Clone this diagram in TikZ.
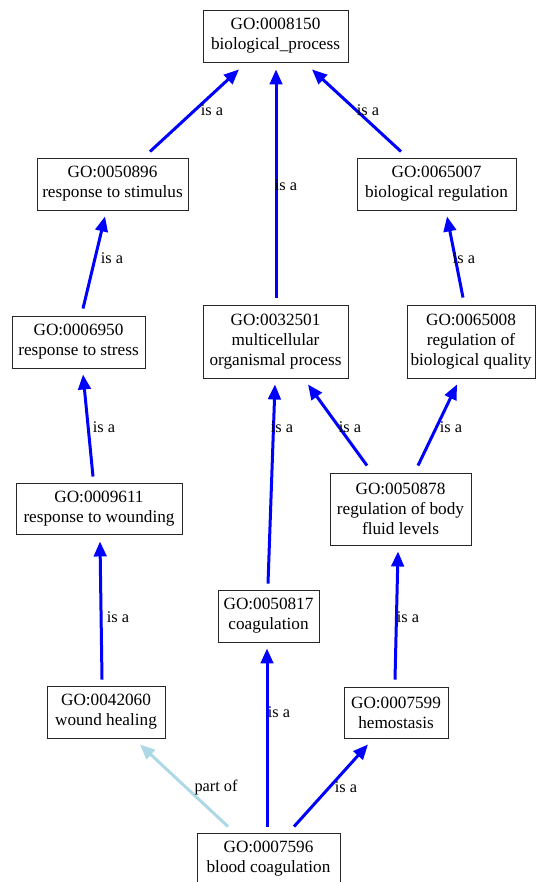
\documentclass[tikz,border=0pt]{standalone}
\usepackage{fontspec}
\setmainfont{Liberation Serif}
\usetikzlibrary{arrows.meta}
\tikzset{
  x=1pt, y=-1pt,
  gobox/.style={draw=black!85, line width=0.9pt, inner sep=0pt, align=center,
    font=\fontsize{17.2}{20}\selectfont, minimum height=52pt},
  isa/.style={draw={rgb,255:red,0;green,0;blue,255}, line width=3pt,
    -{Triangle[length=15pt,width=12.5pt]}},
  partof/.style={draw={rgb,255:red,173;green,216;blue,230}, line width=3pt,
    -{Triangle[length=15pt,width=12.5pt]}},
  elabel/.style={font=\fontsize{16.3}{19}\selectfont, inner sep=0pt}
}
\begin{document}
\begin{tikzpicture}
\useasboundingbox (0,0) rectangle (536,882);
% nodes
\node[gobox, minimum width=145pt] (n8150) at (275.5,36) {GO:0008150\\biological\_process};
\node[gobox, minimum width=151pt] (n50896) at (112.5,184) {GO:0050896\\response to stimulus};
\node[gobox, minimum width=159pt] (n65007) at (436.5,184) {GO:0065007\\biological regulation};
\node[gobox, minimum width=133pt] (n6950) at (78.5,342) {GO:0006950\\response to stress};
\node[gobox, minimum width=145pt, minimum height=73pt] (n32501) at (275.5,341.5) {GO:0032501\\multicellular\\organismal process};
\node[gobox, minimum width=128pt, minimum height=73pt] (n65008) at (471,341.5) {GO:0065008\\regulation of\\biological quality};
\node[gobox, minimum width=166pt, minimum height=51pt] (n9611) at (99,508.5) {GO:0009611\\response to wounding};
\node[gobox, minimum width=141pt, minimum height=72pt] (n50878) at (400.5,509) {GO:0050878\\regulation of body\\fluid levels};
\node[gobox, minimum width=101pt] (n50817) at (268.5,616) {GO:0050817\\coagulation};
\node[gobox, minimum width=118pt] (n42060) at (106,712) {GO:0042060\\wound healing};
\node[gobox, minimum width=104pt, minimum height=51pt] (n7599) at (396,712.5) {GO:0007599\\hemostasis};
\node[gobox, minimum width=143pt] (n7596) at (268.5,859) {GO:0007596\\blood coagulation};
% edges
\draw[partof] ([xshift=-40.5pt,yshift=6pt]n7596.north) -- ([xshift=34pt,yshift=-6pt]n42060.south);
\draw[isa] ([xshift=-1.5pt,yshift=6pt]n7596.north) -- ([xshift=-1.5pt,yshift=-6pt]n50817.south);
\draw[isa] ([xshift=25.5pt,yshift=6pt]n7596.north) -- ([xshift=-28pt,yshift=-6pt]n7599.south);
\draw[isa] ([xshift=-4pt,yshift=6pt]n42060.north) -- ([xshift=1pt,yshift=-7pt]n9611.south);
\draw[isa] ([xshift=-1pt,yshift=7pt]n7599.north) -- ([xshift=-2.5pt,yshift=-6pt]n50878.south);
\draw[isa] ([xshift=-0.5pt,yshift=6pt]n50817.north) -- ([xshift=-0.5pt,yshift=-6pt]n32501.south);
\draw[isa] ([xshift=-33.5pt,yshift=7pt]n50878.north) -- ([xshift=32.5pt,yshift=-6pt]n32501.south);
\draw[isa] ([xshift=17.5pt,yshift=7pt]n50878.north) -- ([xshift=-14pt,yshift=-6pt]n65008.south);
\draw[isa] ([xshift=-6pt,yshift=6pt]n9611.north) -- ([xshift=4.5pt,yshift=-6pt]n6950.south);
\draw[isa] ([xshift=4.5pt,yshift=7pt]n6950.north) -- ([xshift=-7.5pt,yshift=-6pt]n50896.south);
\draw[isa] ([xshift=0.5pt,yshift=7pt]n32501.north) -- ([xshift=0.5pt,yshift=-7pt]n8150.south);
\draw[isa] ([xshift=-8pt,yshift=7pt]n65008.north) -- ([xshift=10.5pt,yshift=-6pt]n65007.south);
\draw[isa] ([xshift=37.5pt,yshift=6pt]n50896.north) -- ([xshift=-36.5pt,yshift=-7pt]n8150.south);
\draw[isa] ([xshift=-35.5pt,yshift=6pt]n65007.north) -- ([xshift=36.5pt,yshift=-7pt]n8150.south);
% labels
\node[elabel] (l1) at (216,787) {part of};
\node[elabel] (l2) at (279,712) {is a};
\node[elabel] (l3) at (346,787) {is a};
\node[elabel] (l4) at (118,617) {is a};
\node[elabel] (l5) at (408,617) {is a};
\node[elabel] (l6) at (282,427) {is a};
\node[elabel] (l7) at (350,427) {is a};
\node[elabel] (l8) at (451,427) {is a};
\node[elabel] (l9) at (104,427) {is a};
\node[elabel] (l10) at (112,258) {is a};
\node[elabel] (l11) at (286,185) {is a};
\node[elabel] (l12) at (464,258) {is a};
\node[elabel] (l13) at (212,110) {is a};
\node[elabel] (l14) at (368,110) {is a};
\end{tikzpicture}
\end{document}
